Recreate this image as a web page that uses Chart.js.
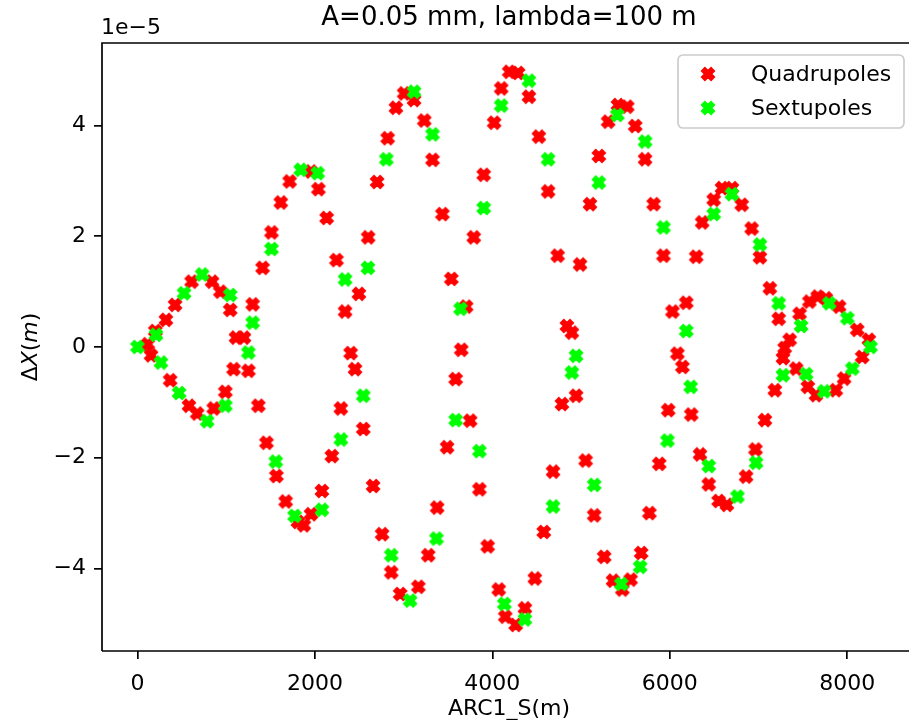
<!DOCTYPE html>
<html>
<head>
<meta charset="utf-8">
<script src="https://cdn.jsdelivr.net/npm/chart.js@4.4.1/dist/chart.umd.min.js"></script>
<style>
body { margin: 0; background: #fff; }
</style>
</head>
<body>
<canvas id="myChart" width="912" height="720"></canvas>
<script>
var chartTitle = "A=0.05 mm, lambda=100 m";
var xTicks = [0, 2000, 4000, 6000, 8000];
var yTicks = [-4, -2, 0, 2, 4];

// ARC1_S in m, deltaX in units of 1e-5 m
var quadS = [115, 153, 201, 320, 368, 424, 580, 610, 673, 840, 859, 934, 990, 1045, 1083, 1110, 1200, 1250, 1298, 1362,
  1410, 1454, 1510, 1566, 1615, 1670, 1715, 1808, 1875, 1956, 1956, 2039, 2079, 2132, 2191, 2243, 2292, 2340, 2403, 2452,
  2496, 2545, 2600, 2656, 2701, 2757, 2820, 2861, 2913, 2961, 3006, 3117, 3166, 3233, 3277, 3326, 3378, 3437, 3490, 3538,
  3586, 3650, 3705, 3750, 3791, 3854, 3903, 3947, 4020, 4072, 4100, 4146, 4190, 4263, 4290, 4367, 4412, 4479, 4524, 4580,
  4628, 4684, 4736, 4784, 4840, 4896, 4944, 4988, 5052, 5100, 5148, 5200, 5260, 5305, 5360, 5416, 5465, 5521, 5558, 5610,
  5677, 5722, 5770, 5818, 5881, 5929, 5982, 6030, 6086, 6142, 6186, 6242, 6298, 6340, 6365, 6439, 6495, 6551, 6588, 6644,
  6700, 6811, 6860, 6923, 6966, 7016, 7072, 7128, 7184, 7228, 7276, 7295, 7351, 7425, 7463, 7556, 7574, 7648, 7667, 7760,
  7871, 7909, 7965, 8113, 8169, 8244];
var quadDX = [0.05, -0.15, 0.29, 0.49, -0.60, 0.76, -1.06, 1.18, -1.20, 1.18, -1.11, 1.00, -0.81, 0.67, -0.40, 0.17, 0.17, -0.43, 0.77, -1.06,
  1.43, -1.73, 2.07, -2.33, 2.61, -2.79, 2.99, -3.16, -3.22, 3.17, -3.02, 2.85, -2.60, 2.33, -1.97, 1.57, -1.11, 0.64, -0.11, -0.40,
  0.96, -1.48, 1.98, -2.51, 2.98, -3.38, 3.77, -4.07, 4.32, -4.46, 4.58, 4.46, -4.33, 4.09, -3.76, 3.38, -2.90, 2.40, -1.81, 1.23,
  -0.58, -0.05, 0.73, -1.33, 1.98, -2.57, 3.11, -3.60, 4.05, -4.38, 4.67, -4.87, 4.97, -5.02, 4.95, -4.72, 4.52, -4.18, 3.80, -3.34,
  2.81, -2.25, 1.65, -1.03, 0.38, 0.26, -0.88, 1.49, -2.05, 2.58, -3.04, 3.45, -3.79, 4.07, -4.22, 4.37, -4.38, 4.34, -4.20, 3.99,
  -3.72, 3.39, -3.00, 2.58, -2.11, 1.65, -1.14, 0.64, -0.12, -0.36, 0.80, -1.22, 1.63, -1.94, 2.25, -2.48, 2.66, -2.78, 2.87, -2.85,
  2.87, 2.57, -2.34, 2.14, -1.85, 1.62, -1.32, 1.06, -0.78, 0.51, -0.20, -0.02, 0.13, -0.39, 0.60, -0.72, 0.82, -0.87, 0.91, 0.88,
  -0.78, 0.73, -0.57, 0.31, -0.18, 0.13];
var sextS = [0, 208, 264, 469, 525, 729, 785, 990, 1045, 1250, 1298, 1510, 1559, 1771, 1840, 2031, 2079, 2292, 2340, 2545,
  2597, 2805, 2861, 3073, 3117, 3326, 3370, 3586, 3642, 3854, 3903, 4100, 4135, 4367, 4412, 4628, 4684, 4896, 4944, 5148,
  5200, 5409, 5454, 5666, 5722, 5929, 5974, 6186, 6235, 6439, 6495, 6700, 6763, 6972, 7016, 7228, 7276, 7480, 7537, 7741,
  7797, 8002, 8058, 8262];
var sextDX = [0.00, 0.22, -0.28, -0.83, 0.97, 1.31, -1.34, -1.06, 0.94, -0.10, 0.44, 1.77, -2.07, -3.05, 3.20, 3.14, -2.94, -1.67, 1.22, -0.88,
  1.43, 3.39, -3.76, -4.58, 4.61, 3.84, -3.46, -1.32, 0.69, -1.88, 2.51, 4.36, -4.64, -4.92, 4.81, 3.39, -2.88, -0.46, -0.16, -2.49,
  2.97, 4.19, -4.28, -3.97, 3.71, 2.16, -1.69, 0.29, -0.72, -2.15, 2.40, 2.76, -2.70, -2.09, 1.85, 0.79, -0.51, 0.38, -0.49, -0.80,
  0.79, 0.52, -0.39, 0.00];

function toPoints(xs, ys) {
  return xs.map(function (x, i) { return { x: x, y: ys[i] }; });
}

// filled "X" marker like matplotlib's marker="X"
function xMarker(color) {
  var c = document.createElement("canvas");
  c.width = 20;
  c.height = 20;
  var g = c.getContext("2d");
  var k = 13.2 / 6;
  var pts = [[-1, -3], [1, -3], [1, -1], [3, -1], [3, 1], [1, 1], [1, 3], [-1, 3], [-1, 1], [-3, 1], [-3, -1], [-1, -1]];
  g.translate(10, 10);
  g.rotate(Math.PI / 4);
  g.beginPath();
  pts.forEach(function (p, i) {
    if (i === 0) g.moveTo(p[0] * k, p[1] * k);
    else g.lineTo(p[0] * k, p[1] * k);
  });
  g.closePath();
  g.fillStyle = color;
  g.fill();
  g.lineWidth = 1.8;
  g.strokeStyle = color;
  g.stroke();
  return c;
}

function fmt(v) {
  return v < 0 ? "\u2212" + (-v) : String(v);
}

var FONT = "'DejaVu Sans', sans-serif";

var extras = {
  id: "extras",
  beforeDraw: function (chart) {
    var ctx = chart.ctx;
    ctx.save();
    ctx.fillStyle = "#fff";
    ctx.fillRect(0, 0, chart.width, chart.height);
    ctx.restore();
  },
  afterDraw: function (chart) {
    var ctx = chart.ctx;
    var a = chart.chartArea;
    ctx.save();
    // spines (right one falls outside the picture)
    ctx.strokeStyle = "#000";
    ctx.lineWidth = 1.7;
    ctx.beginPath();
    ctx.moveTo(a.left, a.bottom);
    ctx.lineTo(a.left, a.top);
    ctx.lineTo(a.right + 5, a.top);
    ctx.moveTo(a.left, a.bottom);
    ctx.lineTo(a.right + 5, a.bottom);
    ctx.stroke();

    ctx.fillStyle = "#000";
    ctx.textBaseline = "middle";
    // title
    ctx.textAlign = "center";
    ctx.font = "26px " + FONT;
    ctx.fillText(chartTitle, 509, 18);
    // offset text
    ctx.textAlign = "left";
    ctx.font = "22px " + FONT;
    ctx.fillText("1e\u22125", a.left - 1, 28);
    // x label
    ctx.textAlign = "center";
    ctx.fillText("ARC1_S(m)", 509, 709);
    // y label with math italics
    var parts = [["\u0394", ""], ["X", "italic "], ["(", ""], ["m", "italic "], [")", ""]];
    var total = 0;
    parts.forEach(function (p) {
      ctx.font = p[1] + "22px " + FONT;
      total += ctx.measureText(p[0]).width;
    });
    ctx.translate(31, (a.top + a.bottom) / 2);
    ctx.rotate(-Math.PI / 2);
    ctx.textAlign = "left";
    var px = -total / 2;
    parts.forEach(function (p) {
      ctx.font = p[1] + "22px " + FONT;
      ctx.fillText(p[0], px, 0);
      px += ctx.measureText(p[0]).width;
    });
    ctx.restore();

    // legend
    ctx.save();
    var bx = 678, by = 55, bw = 226, bh = 73;
    ctx.beginPath();
    if (ctx.roundRect) ctx.roundRect(bx, by, bw, bh, 5);
    else ctx.rect(bx, by, bw, bh);
    ctx.fillStyle = "rgba(255,255,255,0.8)";
    ctx.fill();
    ctx.strokeStyle = "#cccccc";
    ctx.lineWidth = 1.7;
    ctx.stroke();
    ctx.font = "22px " + FONT;
    ctx.textAlign = "left";
    ctx.textBaseline = "middle";
    ctx.fillStyle = "#000";
    chart.data.datasets.forEach(function (ds, i) {
      var yy = 74 + i * 34;
      var img = ds.pointStyle;
      ctx.drawImage(img, 708 - img.width / 2, yy - img.height / 2);
      ctx.fillText(ds.label, 751, yy + 1);
    });
    ctx.restore();
  }
};

var ctx = document.getElementById("myChart").getContext("2d");
var myChart = new Chart(ctx, {
  type: "scatter",
  data: {
    datasets: [
      {
        label: "Quadrupoles",
        data: toPoints(quadS, quadDX),
        pointStyle: xMarker("#ff0000"),
        pointRadius: 7,
        order: 2
      },
      {
        label: "Sextupoles",
        data: toPoints(sextS, sextDX),
        pointStyle: xMarker("#00ff00"),
        pointRadius: 7,
        order: 1
      }
    ]
  },
  options: {
    responsive: false,
    animation: false,
    devicePixelRatio: 1,
    layout: { padding: { top: 43, left: 0, right: 0, bottom: 0 } },
    plugins: {
      legend: { display: false },
      tooltip: { enabled: false }
    },
    scales: {
      x: {
        type: "linear",
        min: -400,
        max: 8640,
        afterBuildTicks: function (s) { s.ticks = xTicks.map(function (v) { return { value: v }; }); },
        afterFit: function (s) { s.height = 69; },
        border: { display: false },
        grid: { drawOnChartArea: false, tickLength: 8, lineWidth: 1.7, color: "#000" },
        ticks: { color: "#000", font: { family: FONT, size: 22 }, padding: 12, maxRotation: 0, autoSkip: false, callback: fmt }
      },
      y: {
        type: "linear",
        min: -5.49,
        max: 5.49,
        afterBuildTicks: function (s) { s.ticks = yTicks.map(function (v) { return { value: v }; }); },
        afterFit: function (s) { s.width = 102; },
        border: { display: false },
        grid: { drawOnChartArea: false, tickLength: 8, lineWidth: 1.7, color: "#000" },
        ticks: { color: "#000", font: { family: FONT, size: 22 }, padding: 8, autoSkip: false, callback: fmt }
      }
    }
  },
  plugins: [extras]
});
</script>
</body>
</html>
